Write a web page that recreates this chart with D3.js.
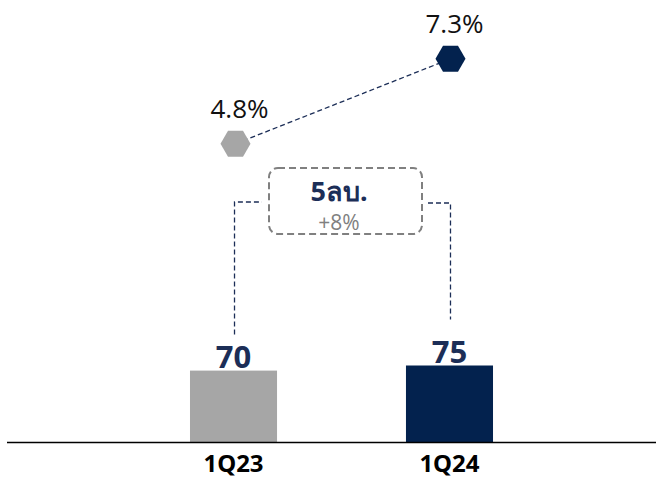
<!DOCTYPE html>
<meta charset="utf-8">
<script src="https://d3js.org/d3.v7.min.js"></script>
<style>
  body { margin: 0; background: #fff; }
</style>
<div id="chart"></div>
<script>

    // data
    var quarters = ["1Q23", "1Q24"];
    var volumes = [70, 75];
    var margins = [4.8, 7.3];
    var changeAbs = "5ลบ.";
    var changePct = "+8%";

    var barColors = ["#a6a6a6", "#03224e"];
    var navy = "#1c2e57";

    var W = 656, H = 479;

    var svg = d3.select("#chart")
        .append("svg")
        .attr("width", W)
        .attr("height", H);

    // scales
    var x = d3.scaleBand()
        .domain(quarters)
        .range([82, 601])
        .paddingInner(0.597)
        .paddingOuter(0.5);

    var y = d3.scaleLinear()
        .domain([0, 100])
        .range([442, 340]);

    var y2 = d3.scaleLinear()
        .domain([0, 10])
        .range([307, -33]);

    // bars
    svg.selectAll(".bar")
        .data(volumes)
        .enter()
        .append("rect")
        .attr("x", function (d, i) { return x(quarters[i]); })
        .attr("y", function (d) { return y(d); })
        .attr("width", x.bandwidth())
        .attr("height", function (d) { return y(0) - y(d); })
        .attr("fill", function (d, i) { return barColors[i]; });

    // bar value labels
    svg.selectAll(".val")
        .data(volumes)
        .enter()
        .append("text")
        .attr("x", function (d, i) { return x(quarters[i]) + x.bandwidth() / 2; })
        .attr("y", function (d) { return y(d) - 3; })
        .attr("text-anchor", "middle")
        .style("font-family", "'Noto Sans', sans-serif")
        .style("font-weight", "bold")
        .style("font-size", "31px")
        .attr("fill", navy)
        .text(function (d) { return d; });

    // baseline
    svg.append("line")
        .attr("x1", 7).attr("x2", W)
        .attr("y1", y(0) + 0.5).attr("y2", y(0) + 0.5)
        .attr("stroke", "#000")
        .attr("stroke-width", 1.6);

    // x labels
    svg.selectAll(".xl")
        .data(quarters)
        .enter()
        .append("text")
        .attr("x", function (d) { return x(d) + x.bandwidth() / 2; })
        .attr("y", 472)
        .attr("text-anchor", "middle")
        .style("font-family", "'Noto Sans', sans-serif")
        .style("font-weight", "bold")
        .style("font-size", "24px")
        .attr("fill", "#000")
        .text(function (d) { return d; });

    // margin line points
    var px = [x(quarters[0]) + x.bandwidth() / 2 + 2, x(quarters[1]) + x.bandwidth() / 2 + 1];

    svg.append("line")
        .attr("x1", px[0]).attr("y1", y2(margins[0]))
        .attr("x2", px[1]).attr("y2", y2(margins[1]))
        .attr("stroke", navy)
        .attr("stroke-width", 1.3)
        .attr("stroke-dasharray", "5,3");

    function hexagon(cx, cy, r) {
        var pts = d3.range(6).map(function (k) {
            var a = k * Math.PI / 3;
            return [cx + r * Math.cos(a), cy + r * Math.sin(a)];
        });
        return "M" + pts.join("L") + "Z";
    }

    svg.selectAll(".hex")
        .data(margins)
        .enter()
        .append("path")
        .attr("d", function (d, i) { return hexagon(px[i], y2(d), 15); })
        .attr("fill", function (d, i) { return barColors[i]; });

    svg.selectAll(".ml")
        .data(margins)
        .enter()
        .append("text")
        .attr("x", function (d, i) { return px[i] + 4; })
        .attr("y", function (d) { return y2(d) - 26; })
        .attr("text-anchor", "middle")
        .style("font-family", "'Open Sans', sans-serif")
        .style("font-size", "26px")
        .attr("fill", "#111")
        .text(function (d) { return d.toFixed(1) + "%"; });

    // bracket lines from bar labels to the change box
    var bx = [x(quarters[0]) + x.bandwidth() / 2 + 1, x(quarters[1]) + x.bandwidth() / 2 + 1];
    var bracket = d3.line();
    svg.append("path")
        .attr("d", bracket([[bx[0], y(volumes[0]) - 36], [bx[0], 202], [262, 202]]))
        .attr("fill", "none")
        .attr("stroke", navy)
        .attr("stroke-width", 1.3)
        .attr("stroke-dasharray", "5,3");
    svg.append("path")
        .attr("d", bracket([[428, 203], [bx[1], 203], [bx[1], y(volumes[1]) - 46]]))
        .attr("fill", "none")
        .attr("stroke", navy)
        .attr("stroke-width", 1.3)
        .attr("stroke-dasharray", "5,3");

    // change box
    svg.append("rect")
        .attr("x", 269).attr("y", 168)
        .attr("width", 153).attr("height", 66)
        .attr("rx", 9)
        .attr("fill", "#fff")
        .attr("stroke", "#808080")
        .attr("stroke-width", 2)
        .attr("stroke-dasharray", "7,4");

    svg.append("text")
        .attr("x", 339).attr("y", 201)
        .attr("text-anchor", "middle")
        .style("font-family", "'Noto Sans', sans-serif")
        .style("font-weight", "bold")
        .style("font-size", "27px")
        .attr("fill", navy)
        .text(changeAbs);

    svg.append("text")
        .attr("x", 339).attr("y", 230)
        .attr("text-anchor", "middle")
        .style("font-family", "'Open Sans', sans-serif")
        .style("font-size", "21px")
        .attr("fill", "#808080")
        .text(changePct);

</script>
